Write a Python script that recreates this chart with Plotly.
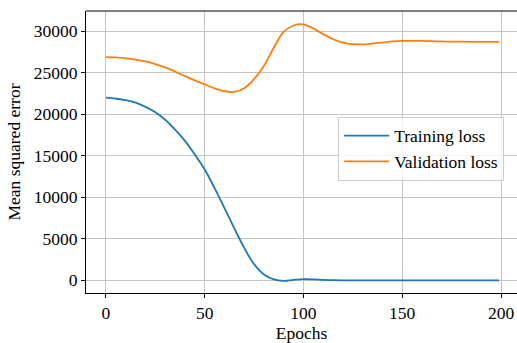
import plotly.graph_objects as go

# Loss curves sampled every 5 epochs (last sample at epoch 199)
epochs = [0, 5, 10, 15, 20, 25, 30, 35, 40, 45, 50, 55, 60, 65, 70, 75, 80, 85, 90, 95,
          100, 105, 110, 115, 120, 125, 130, 135, 140, 145, 150, 155, 160, 165, 170, 175,
          180, 185, 190, 195, 199]

training_loss = [22000, 21880, 21700, 21400, 20900, 20250, 19350, 18150, 16800, 15150,
                 13350, 11100, 8700, 6250, 3900, 1950, 700, 100, -60, 50,
                 130, 110, 50, 10, 0, 0, 0, 0, 0, 0,
                 0, 0, 0, 0, 0, 0, 0, 0, 0, 0, 0]

validation_loss = [26900, 26850, 26750, 26600, 26380, 26050, 25650, 25150, 24600, 24080,
                   23600, 23120, 22780, 22700, 23150, 24250, 25850, 28050, 29950, 30700,
                   30850, 30350, 29650, 29050, 28650, 28450, 28430, 28530, 28650, 28780,
                   28850, 28860, 28840, 28810, 28780, 28760, 28750, 28740, 28740, 28740, 28740]

x_ticks = [0, 50, 100, 150, 200]
y_ticks = [0, 5000, 10000, 15000, 20000, 25000, 30000]

FONT = "'Liberation Serif', 'Times New Roman', serif"
FS = 17.5

fig = go.Figure()
fig.add_trace(go.Scatter(x=epochs, y=training_loss, mode="lines", name="Training loss",
                         line=dict(color="#1f77b4", width=1.8, shape="spline", smoothing=1.0)))
fig.add_trace(go.Scatter(x=epochs, y=validation_loss, mode="lines", name="Validation loss",
                         line=dict(color="#ff7f0e", width=1.8, shape="spline", smoothing=1.0)))

axis_common = dict(
    showgrid=True, gridcolor="#c4c4c4", gridwidth=1, zeroline=False,
    showline=True, linecolor="black", linewidth=1,
    ticks="outside", ticklen=4, tickwidth=1, tickcolor="black",
    tickfont=dict(family=FONT, size=FS, color="black"),
)

fig.update_xaxes(range=[-10.1, 208.1], tickvals=x_ticks, ticktext=[str(v) for v in x_ticks],
                 title=dict(text="Epochs", font=dict(family=FONT, size=FS, color="black"), standoff=6),
                 **axis_common)
fig.update_yaxes(range=[-1532, 32449], tickvals=y_ticks, ticktext=[str(v) for v in y_ticks],
                 title=dict(text="Mean squared error", font=dict(family=FONT, size=FS, color="black"), standoff=8),
                 **axis_common)

# top frame line (the right side of the frame runs past the page edge)
fig.add_shape(type="line", xref="paper", yref="paper", x0=0, x1=1, y0=1, y1=1,
              line=dict(color="black", width=1))

fig.update_layout(
    width=517, height=343,
    margin=dict(l=86, r=0, t=11, b=50),
    plot_bgcolor="white", paper_bgcolor="white",
    font=dict(family=FONT, size=FS, color="black"),
    legend=dict(x=0.585, y=0.625, xanchor="left", yanchor="top", itemwidth=45,
                bgcolor="rgba(255,255,255,0.8)", bordercolor="#cccccc", borderwidth=1,
                font=dict(family=FONT, size=FS, color="black"), tracegroupgap=0),
)

fig.write_html("out.html")
